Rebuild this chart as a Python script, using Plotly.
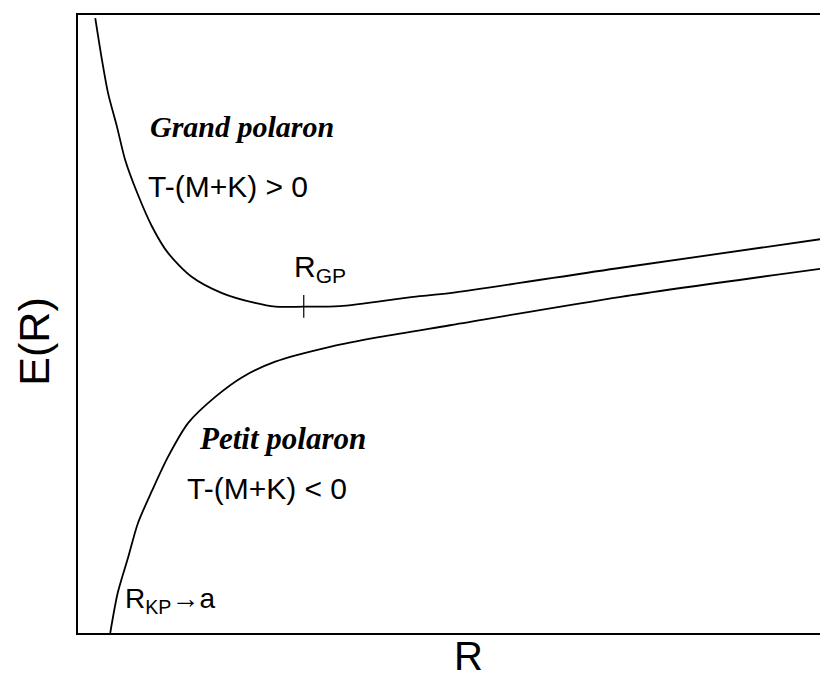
"""Schematic E(R) curves for large and small polaron"""

import plotly.graph_objs as go

# upper branch: grand polaron (arbitrary units, R on x, E on y)
GP_R = [0.23, 0.32, 0.40, 0.52, 0.63, 0.79, 0.99, 1.20, 1.52, 1.92, 2.36,
        2.63, 3.01, 3.49, 4.47, 4.96, 7.24, 10.0]
GP_E = [9.95, 9.27, 8.74, 8.19, 7.65, 7.12, 6.57, 6.15, 5.76, 5.50, 5.34,
        5.28, 5.28, 5.29, 5.44, 5.50, 5.91, 6.39]

# lower branch: petit polaron
PP_R = [0.43, 0.53, 0.67, 0.80, 0.99, 1.20, 1.47, 1.83, 2.19, 2.63, 3.36,
        4.03, 4.96, 7.24, 10.0]
PP_E = [0.00, 0.65, 1.23, 1.78, 2.31, 2.85, 3.40, 3.82, 4.14, 4.39, 4.63,
        4.79, 4.98, 5.44, 5.91]

# position of the minimum R_GP and its marker
R_GP = 3.01
E_GP = 5.28

SERIF = 'Liberation Serif'
SANS = 'Liberation Sans'

LABELS = [
    # text, x, y, font, size
    ('<b><i>Grand polaron</i></b>', 0.93, 8.20, SERIF, 30),
    ('T-(M+K) &gt; 0', 0.90, 7.22, SANS, 30),
    ('<b><i>Petit polaron</i></b>', 1.59, 3.14, SERIF, 31),
    ('T-(M+K) &lt; 0', 1.42, 2.34, SANS, 30),
    ('R<sub>KP</sub>→a', 0.60, 0.52, SANS, 28),
    ('R<sub>GP</sub>', 2.85, 5.90, SANS, 30),
]

line_style = dict(color='black', width=1.8, shape='spline', smoothing=0.8)

traces = [
    go.Scatter(x=GP_R, y=GP_E, mode='lines', line=line_style),
    go.Scatter(x=PP_R, y=PP_E, mode='lines', line=line_style),
    go.Scatter(x=[R_GP, R_GP], y=[E_GP - 0.18, E_GP + 0.19], mode='lines',
               line=dict(color='black', width=1.2)),
]

annotations = [
    dict(text=t, x=x, y=y, xref='x', yref='y', xanchor='left', yanchor='middle',
         showarrow=False, font=dict(family=f, size=s, color='black'))
    for t, x, y, f, s in LABELS
]
annotations += [
    dict(text='R', x=0.52, y=-0.038, xref='paper', yref='paper',
         xanchor='center', yanchor='middle', showarrow=False,
         font=dict(family=SANS, size=40, color='black')),
    dict(text='E(R)', x=-0.059, y=0.471, xref='paper', yref='paper',
         xanchor='center', yanchor='middle', showarrow=False, textangle=-90,
         font=dict(family=SANS, size=43, color='black')),
]

axis = dict(showgrid=False, zeroline=False, showticklabels=False, ticks='',
            showline=True, linecolor='black', linewidth=2)

# the page body adds 8px, so the figure is a bit smaller than the window
layout = go.Layout(
    width=820, height=671,
    margin=dict(l=70, r=0, t=7, b=46),
    paper_bgcolor='white', plot_bgcolor='white',
    showlegend=False,
    xaxis=dict(axis, range=[0, 10], mirror=True),
    yaxis=dict(axis, range=[0, 10]),
    annotations=annotations,
)

fig = go.Figure(traces, layout=layout)
fig.write_html('out.html')
